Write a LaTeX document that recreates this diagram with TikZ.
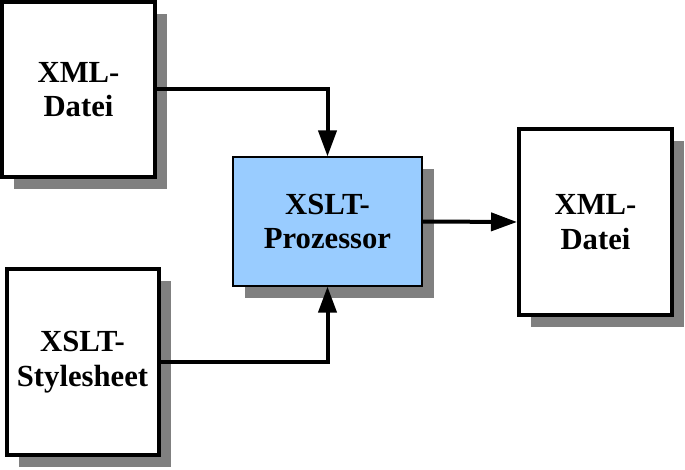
\documentclass[tikz,border=0pt]{standalone}
\usepackage{fontspec}
\setmainfont{Liberation Serif}
\usepackage{tikz}
\usetikzlibrary{arrows.meta,shadows,backgrounds}
\definecolor{procblue}{RGB}{153,204,255}
\definecolor{shadowgray}{RGB}{128,128,128}

\tikzset{
  filebox/.style={draw,line width=3pt,fill=white,inner sep=0pt,align=center,
    font=\bfseries\fontsize{23}{26}\selectfont,
    drop shadow={shadow xshift=9pt,shadow yshift=-9pt,fill=shadowgray,opacity=1}},
  procbox/.style={filebox,line width=0.8pt,fill=procblue},
  flow/.style={line width=3pt,-{Triangle[width=13.5pt,length=19.5pt]}}
}

\begin{document}
\begin{tikzpicture}[x=0.75pt,y=0.75pt,yscale=-1,xscale=1]
%set diagram left start at 0, and has height of 470
\useasboundingbox (0,0) rectangle (685,470);

%Shape: Rectangle [XML-Datei, input]
\node[filebox,minimum width=114.75pt,minimum height=131.25pt] (xmlin) at (78.5,89.5) {XML-\\Datei};
%Shape: Rectangle [XSLT-Stylesheet]
\node[filebox,minimum width=114pt,minimum height=139.5pt] (sheet) at (82.5,362) {XSLT-\\Stylesheet};
%Shape: Rectangle [XSLT-Prozessor]
\node[procbox,minimum width=141.75pt,minimum height=96.75pt] (proc) at (327.5,221.5) {XSLT-\\Prozessor};
%Shape: Rectangle [XML-Datei, output]
\node[filebox,minimum width=114.75pt,minimum height=139.5pt] (xmlout) at (595.5,222) {XML-\\Datei};

%Straight Lines
\draw[flow] (xmlin.east) -| (proc.north);
%Straight Lines
\draw[flow] (sheet.east) -| (proc.south);
%Straight Lines
\draw[flow] (proc.east) -- (xmlout.west);

\end{tikzpicture}
\end{document}
